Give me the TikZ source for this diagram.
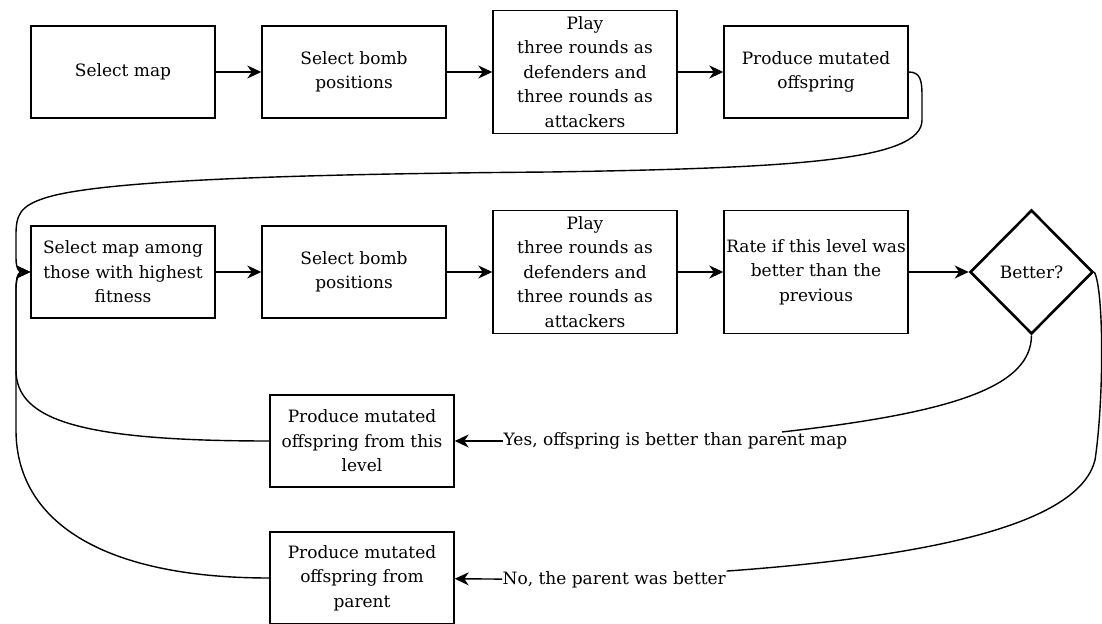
\documentclass[tikz,border=0pt]{standalone}
\usepackage{fontspec}
\setmainfont{DejaVu Serif}
\usetikzlibrary{arrows.meta, shapes.geometric, positioning}

\begin{document}
\begin{tikzpicture}[x=0.5pt, y=-0.5pt, ->, >={Stealth[length=7pt,width=6.5pt,inset=2.2pt]},
                    node distance=115.5pt, line width=0.7pt,
                    font=\fontsize{8.5}{12.25}\selectfont,
                    etape/.style={draw, rectangle, align=center, minimum width=92pt, minimum height=46pt, inner sep=1pt},
                    jouer/.style={etape, minimum height=61.5pt},
                    test/.style={draw, diamond, line width=1.3pt, minimum width=61.5pt, minimum height=62pt, inner sep=0pt},
                    remarque/.style={inner sep=0pt, align=left}]

            \useasboundingbox (0,0) rectangle (1102,624);

            % Première rangée
            \node[etape] (A) at (123,72) {Select map};
            \node[etape, right of=A] (B) {Select bomb\\positions};
            \node[jouer, right of=B] (C) {Play\\three rounds as\\defenders and\\three rounds as\\attackers};
            \node[etape, right of=C] (D) {Produce mutated\\offspring};

            % Deuxième rangée
            \node[etape, below of=A, node distance=100pt] (E) {Select map among\\those with highest\\fitness};
            \node[etape, right of=E] (F) {Select bomb\\positions};
            \node[jouer, right of=F] (G) {Play\\three rounds as\\defenders and\\three rounds as\\attackers};
            \node[jouer, right of=G] (H) {Rate if this level was\\better than the\\previous};
            \node[test, right of=H, node distance=107.75pt] (Q) {Better?};

            % Nouvelles cartes
            \node[etape] (I) at (362,441) {Produce mutated\\offspring from this\\level};
            \node[etape] (J) at (362,578) {Produce mutated\\offspring from\\parent};
            \node[remarque, anchor=west] (oui) at (503,441) {Yes, offspring is better than parent map};
            \node[remarque, anchor=west] (non) at (502,580) {No, the parent was better};

            % Arêtes droites
            \path (A) edge (B) (B) edge (C) (C) edge (D);
            \path (E) edge (F) (F) edge (G) (G) edge (H) (H) edge (Q);
            \path (oui) edge (I) (non) edge (J);

            % Retours courbes
            \draw (D.east) .. controls (920,72) and (922,80) .. (922,95) -- (922,120)
                .. controls (922,160) and (800,168) .. (550,172)
                .. controls (300,174) and (100,180) .. (45,198)
                .. controls (20,206) and (16,215) .. (16,235) -- (16,258)
                .. controls (16,270) and (20,272) .. (E.west);
            \draw (I.west) .. controls (80,441) and (16,420) .. (16,370) -- (16,290)
                .. controls (16,274) and (20,272) .. (E.west);
            \draw (J.west) .. controls (100,578) and (16,520) .. (16,430) -- (16,290)
                .. controls (16,274) and (20,272) .. (E.west);
            \draw[-] (Q.south) .. controls (1031,385) and (960,412) .. ([xshift=-33pt]oui.north east);
            \draw[-] (Q.east) .. controls (1104,290) and (1104,400) .. (1095,460)
                .. controls (1080,520) and (950,555) .. (non.north east);

\end{tikzpicture}
\end{document}
